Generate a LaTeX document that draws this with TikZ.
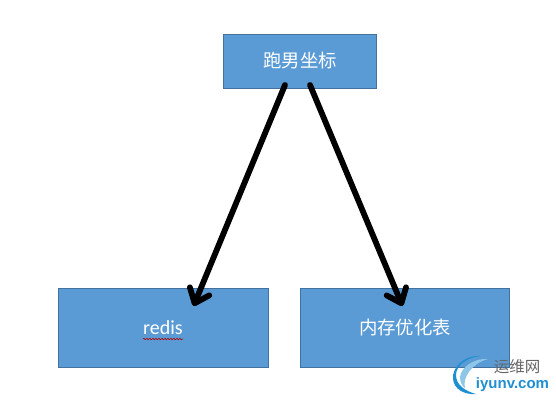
\documentclass[tikz,border=0pt]{standalone}
\usepackage{fontspec}
\setmainfont{Carlito}
\newfontfamily\cjk{Noto Sans CJK SC}
\newfontfamily\logolat{Liberation Sans}
\usetikzlibrary{arrows.meta,decorations.pathmorphing}
\definecolor{boxfill}{HTML}{5B9BD5}
\definecolor{boxline}{HTML}{41719C}
\definecolor{logoblue}{HTML}{1E8FD0}
\tikzset{
  bluebox/.style={draw=boxline,fill=boxfill,line width=0.9pt,inner sep=0pt,text=white,font=\fontsize{18.4}{20}\selectfont},
  linkarrow/.style={draw=black,line width=5.8pt,line cap=round,line join=round,-{Straight Barb[length=13pt,width=21pt,line width=5.8pt,round]}}
}
\begin{document}
\begin{tikzpicture}[x=1pt,y=-1pt]
\useasboundingbox (0,0) rectangle (556,401);
\fill[white] (0,0) rectangle (556,401);
\node[bluebox,minimum width=153pt,minimum height=54pt] (top) at (300,61) {\cjk 跑男坐标};
\node[bluebox,minimum width=210.5pt,minimum height=79pt] (left) at (163.25,327.5) {};
\node[bluebox,minimum width=209pt,minimum height=79pt] (right) at (405,327.5) {\cjk 内存优化表};
\node[text=white,font=\fontsize{20}{22}\selectfont] (redis) at (163,328) {redis};
\draw[red!70!black,line width=0.6pt,decorate,decoration={snake,amplitude=0.7pt,segment length=3pt}] ([xshift=-20pt,yshift=-0.5pt]redis.south) -- ([xshift=20pt,yshift=-0.5pt]redis.south);
\coordinate (a1) at (285,85);
\coordinate (a2) at (193.5,306);
\coordinate (b1) at (310,85);
\coordinate (b2) at (402.5,306);
\draw[linkarrow] (a1) -- (a2);
\draw[linkarrow] (b1) -- (b2);
% watermark
\fill[logoblue] (481,356) .. controls (464,355) and (452,367) .. (453,379) .. controls (454,389) and (464,395) .. (476,394) .. controls (465,391) and (456,385) .. (456,375) .. controls (456,365) and (468,357) .. (481,356) -- cycle;
\fill[logoblue!50!white] (488,359) .. controls (474,358) and (461,367) .. (460,377) .. controls (460,382) and (462,386) .. (465,388) .. controls (462,378) and (472,363) .. (488,359) -- cycle;
\node[text=black!60,font=\cjk\fontsize{15.5}{16}\selectfont,inner sep=0pt] (logoa) at (517,367) {运维网};
\node[text=logoblue,font=\logolat\bfseries\fontsize{15}{16}\selectfont,inner sep=0pt] (logob) at (512.5,385) {iyunv.com};
\end{tikzpicture}
\end{document}
